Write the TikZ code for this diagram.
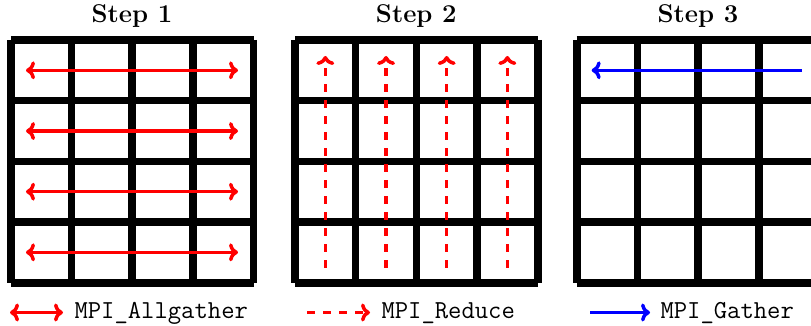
\documentclass[tikz,border=0pt]{standalone}
\usetikzlibrary{arrows.meta}
\begin{document}
\begin{tikzpicture}[x=1pt,y=-1pt,
  gridline/.style={line width=7.6pt, line cap=butt},
  allg/.style={red, line width=3.5pt, {Computer Modern Rightarrow[length=9pt,width=18pt]}-{Computer Modern Rightarrow[length=9pt,width=18pt]}},
  reduce/.style={red, line width=3.5pt, dash pattern=on 8pt off 8pt, -{Computer Modern Rightarrow[length=9pt,width=18pt]}},
  gath/.style={blue, line width=3.5pt, -{Computer Modern Rightarrow[length=9pt,width=18pt]}},
  title/.style={font=\fontsize{25.7}{30}\selectfont\bfseries, anchor=base},
  legtext/.style={font=\fontsize{25.9}{30}\selectfont\ttfamily, anchor=base west},
]
\useasboundingbox (0,0) rectangle (811,326);
\clip (0,0) rectangle (811,326);
\def\cell{60.675}

% three 4x4 process grids
\foreach \gx in {10.8,295,576.7}{
  \foreach \i in {0,...,4}{
    \draw[gridline] ({\gx+\i*\cell},40) -- ({\gx+\i*\cell},{40+4*\cell});
    \draw[gridline] (\gx,{40+\i*\cell}) -- ({\gx+4*\cell},{40+\i*\cell});
  }
}

% titles
\node[title] (t1) at (131.9,23) {Step 1};
\node[title] (t2) at (416.3,23) {Step 2};
\node[title] (t3) at (698.0,23) {Step 3};

% step 1: allgather along each row
\foreach \r in {0,...,3}{
  \coordinate (a\r) at (26,{40+(\r+0.5)*\cell});
  \coordinate (b\r) at (238,{40+(\r+0.5)*\cell});
  \draw[allg] (a\r) -- (b\r);
}

% step 2: reduce up each column
\foreach \c in {0,...,3}{
  \coordinate (rb\c) at ({295+(\c+0.5)*\cell},267.7);
  \coordinate (rt\c) at ({295+(\c+0.5)*\cell},56);
  \draw[reduce] (rb\c) -- (rt\c);
}

% step 3: gather along the first row
\coordinate (gs) at (802,70.3);
\coordinate (ge) at (591.7,70.3);
\draw[gath] (gs) -- (ge);

% legend
\coordinate (l1a) at (10,312.5);
\coordinate (l1b) at (63,312.5);
\draw[allg] (l1a) -- (l1b);
\node[legtext] (l1) at (71,318) {MPI\_Allgather};

\coordinate (l2a) at (307,312.5);
\coordinate (l2b) at (370,312.5);
\draw[reduce] (l2a) -- (l2b);
\node[legtext] (l2) at (378,318) {MPI\_Reduce};

\coordinate (l3a) at (590,312.5);
\coordinate (l3b) at (650,312.5);
\draw[gath] (l3a) -- (l3b);
\node[legtext] (l3) at (657,318) {MPI\_Gather};
\end{tikzpicture}
\end{document}
